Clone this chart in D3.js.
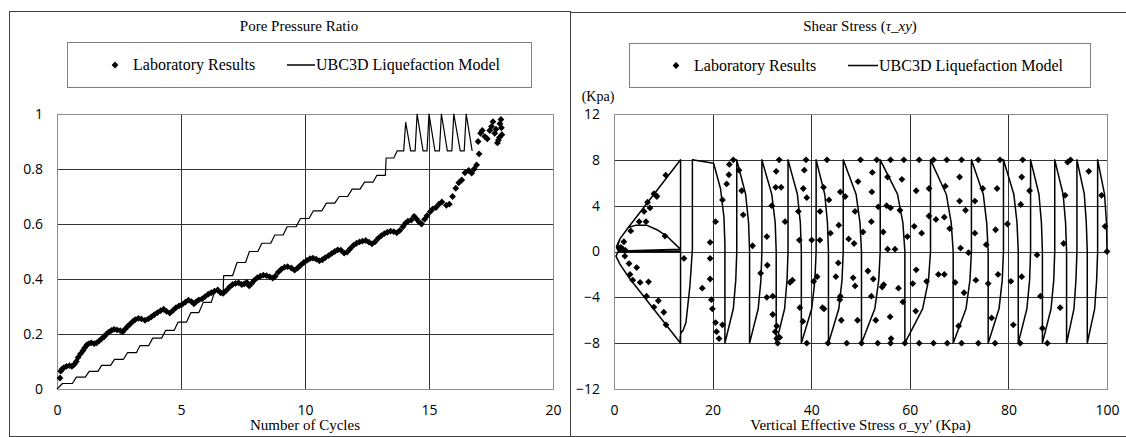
<!DOCTYPE html>
<html>
<head>
<meta charset="utf-8">
<title>Pore Pressure Ratio and Shear Stress</title>
<script src="https://d3js.org/d3.v7.min.js"></script>
<style>
  body { margin: 0; background: #fff; }
  .serif { font-family: "Liberation Serif", "Times New Roman", serif; fill: #000; }
  .tick text { font-family: "Open Sans", sans-serif; font-size: 14px; fill: #000; }
</style>
</head>
<body>
<svg id="chart"></svg>
<script>
// ---- data ----
const poreXTicks = [0, 5, 10, 15, 20];
const poreYTicks = [0, 0.2, 0.4, 0.6, 0.8, 1];
const shearXTicks = [0, 20, 40, 60, 80, 100];
const shearYTicks = [-12, -8, -4, 0, 4, 8, 12];

// laboratory pore pressure ratio [cycles, ratio]
const poreLab = [
  [0.12,0.04],[0.15,0.065],[0.2,0.072],[0.28,0.078],[0.38,0.082],[0.5,0.085],[0.6,0.082],[0.7,0.09],
  [0.78,0.1],[0.85,0.115],[0.95,0.128],[1.05,0.14],[1.12,0.15],[1.2,0.16],[1.28,0.165],[1.38,0.168],
  [1.5,0.165],[1.6,0.168],[1.7,0.175],[1.8,0.183],[1.9,0.19],[2.0,0.2],[2.1,0.208],[2.2,0.213],
  [2.3,0.217],[2.42,0.215],[2.55,0.212],[2.65,0.208],[2.75,0.218],[2.85,0.228],[2.95,0.236],[3.05,0.245],
  [3.15,0.252],[3.28,0.257],[3.4,0.255],[3.55,0.25],[3.68,0.255],[3.8,0.262],[3.92,0.27],[4.05,0.278],
  [4.18,0.285],[4.3,0.29],[4.42,0.282],[4.55,0.276],[4.68,0.286],[4.8,0.296],[4.92,0.302],[5.05,0.308],
  [5.18,0.316],[5.3,0.323],[5.42,0.318],[5.52,0.31],[5.62,0.318],[5.72,0.324],[5.85,0.328],[5.97,0.336],
  [6.1,0.345],[6.22,0.35],[6.35,0.356],[6.48,0.36],[6.6,0.35],[6.7,0.348],[6.82,0.358],[6.95,0.37],
  [7.08,0.38],[7.2,0.384],[7.32,0.386],[7.45,0.38],[7.55,0.382],[7.65,0.388],[7.75,0.375],[7.85,0.384],
  [7.95,0.395],[8.08,0.405],[8.2,0.41],[8.32,0.414],[8.45,0.412],[8.58,0.408],[8.7,0.403],[8.8,0.41],
  [8.92,0.425],[9.05,0.436],[9.18,0.443],[9.3,0.445],[9.45,0.44],[9.58,0.432],[9.7,0.44],[9.82,0.45],
  [9.95,0.46],[10.08,0.468],[10.2,0.474],[10.32,0.476],[10.45,0.472],[10.58,0.466],[10.7,0.47],[10.82,0.478],
  [10.95,0.485],[11.08,0.493],[11.2,0.5],[11.32,0.506],[11.45,0.505],[11.58,0.494],[11.7,0.498],[11.82,0.51],
  [11.95,0.522],[12.08,0.53],[12.2,0.535],[12.32,0.538],[12.45,0.54],[12.58,0.534],[12.7,0.528],[12.82,0.535],
  [12.95,0.548],[13.08,0.558],[13.2,0.565],[13.32,0.57],[13.45,0.574],[13.58,0.572],[13.7,0.568],[13.82,0.576],
  [13.95,0.59],[14.05,0.603],[14.15,0.61],[14.28,0.614],[14.4,0.628],[14.5,0.618],[14.6,0.607],[14.7,0.6],
  [14.82,0.617],[14.92,0.63],[15.05,0.645],[15.15,0.655],[15.28,0.66],[15.4,0.672],[15.52,0.68],[15.7,0.668],
  [15.82,0.672],[15.95,0.7],[16.08,0.73],[16.2,0.75],[16.32,0.76],[16.45,0.786],[16.6,0.795],[16.72,0.785],
  [16.82,0.8],[16.92,0.815],[17.02,0.855],[16.98,0.9],[17.08,0.93],[17.15,0.94],[17.25,0.918],[17.35,0.91],
  [17.45,0.94],[17.52,0.955],[17.58,0.972],[17.65,0.93],[17.7,0.945],[17.76,0.895],[17.8,0.905],[17.86,0.965],
  [17.9,0.98],[17.92,0.95],[17.94,0.925],[17.84,0.915]
];

// UBC3D pore pressure ratio [cycles, ratio]
const poreModel = [
  [0,0],[0.22,0.02],[0.62,0.02],[0.78,0.043],[1.14,0.043],[1.3,0.064],[1.65,0.064],[1.8,0.086],
  [2.16,0.086],[2.32,0.108],[2.68,0.108],[2.84,0.132],[3.2,0.132],[3.35,0.158],[3.7,0.158],[3.86,0.185],
  [4.22,0.185],[4.38,0.213],[4.72,0.213],[4.88,0.243],[5.22,0.243],[5.4,0.278],[5.72,0.278],[5.9,0.315],
  [6.22,0.315],[6.36,0.355],[6.7,0.355],[6.72,0.412],[7.08,0.412],[7.26,0.46],[7.6,0.46],[7.76,0.5],
  [8.1,0.5],[8.26,0.53],[8.62,0.53],[8.78,0.56],[9.12,0.56],[9.28,0.59],[9.64,0.59],[9.82,0.62],
  [10.16,0.62],[10.34,0.648],[10.68,0.648],[10.86,0.676],[11.2,0.676],[11.38,0.7],[11.72,0.7],[11.9,0.727],
  [12.22,0.727],[12.4,0.752],[12.74,0.752],[12.9,0.777],[13.24,0.777],[13.27,0.84],[13.58,0.84],[13.72,0.866],
  [13.98,0.866],[14.06,0.97],[14.26,0.866],[14.44,0.866],[14.52,1.0],[14.76,0.866],[14.92,0.866],[15.0,1.0],
  [15.24,0.866],[15.42,0.866],[15.5,1.0],[15.74,0.866],[15.92,0.866],[16.0,1.0],[16.26,0.866],[16.42,0.866],
  [16.5,1.0],[16.74,0.866]
];

// laboratory shear stress [sigma_yy', tau_xy]
const shearLab = [
  [10.5,6.66],[8.5,4.9],[8.1,5.05],[8.7,4.8],[6.8,4.3],[7.3,3.8],[6.1,3.5],[6.5,2.6],[5.1,2.6],[3.4,1.8],
  [10.35,1.35],[2.0,0.85],[1.4,0.35],[1.8,0.2],[1.1,0.3],[2.3,0.1],[2.2,-0.4],[3.05,-1.05],[4.6,-1.4],[3.25,-2.0],
  [3.8,-2.5],[5.3,-2.7],[7.0,-2.65],[6.6,-3.9],[9.0,-4.3],[8.1,-4.85],[10.1,-5.3],[10.55,-6.4],
  [14.2,-0.6],[17.9,-3.2],[19.5,0.8],[19.5,-0.6],[19.5,-2.4],[19.75,-4.2],[19.95,-5.0],[20.6,2.6],[20.6,-6.2],
  [20.8,-7.0],[21.3,-7.6],[22.0,-6.4],[22.0,4.5],[22.85,5.9],[23.3,6.7],[23.4,7.6],[24.2,8.0],[25.35,7.1],
  [25.9,5.3],[26.2,3.2],[28.1,0.5],[29.75,-1.9],[31.0,1.3],[31.1,-1.2],[31.0,-4.0],[32.0,4.0],[32.2,-3.9],
  [32.2,-5.5],[32.9,7.0],[32.8,5.6],[33.9,5.6],[33.5,8.0],[32.7,-7.0],[33.0,-7.6],[33.2,-8.0],[33.6,-7.5],
  [33.0,-6.5],[34.7,2.6],[35.7,-2.7],[36.2,-2.5],[37.4,3.5],[37.6,1.0],[37.7,-4.9],[38.4,5.5],[38.6,7.1],
  [38.95,8.0],[39.1,4.7],[38.3,-6.1],[39.1,-8.0],[40.1,1.0],[41.75,1.0],[41.8,3.5],[42.5,5.6],[43.2,8.0],
  [43.6,4.5],[43.9,1.6],[41.2,-2.2],[40.5,-2.6],[42.3,-4.9],[42.6,-5.0],[43.4,-8.0],[45.6,2.3],[45.5,-1.0],
  [45.0,-2.2],[45.9,-3.9],[45.8,-4.2],[46.1,-6.0],[47.2,-8.0],[45.9,5.2],[46.9,4.8],[47.6,1.1],[48.9,3.5],
  [48.7,0.7],[48.5,-2.3],[48.9,-3.0],[49.4,-6.0],[50.0,8.0],[49.5,6.1],[50.5,1.7],[50.2,-8.0],[51.5,-1.7],
  [52.2,2.6],[52.3,5.2],[52.4,6.9],[52.2,-3.9],[52.6,-2.4],[53.1,-6.0],[53.5,-8.0],[53.3,8.0],[53.6,3.9],
  [54.6,1.7],[54.7,-2.9],[54.4,-3.1],[55.3,4.0],[55.5,6.5],[56.1,8.0],[56.1,3.8],[56.0,-5.7],[56.2,-7.6],
  [56.1,-8.0],[55.5,0.2],[57.0,0.2],[57.7,-3.2],[58.0,3.6],[58.4,6.3],[58.8,8.0],[58.6,-4.4],[59.0,-8.0],
  [59.5,1.3],[61.3,5.3],[61.3,-1.6],[60.9,2.2],[60.6,-2.8],[61.2,-5.2],[61.9,8.0],[61.9,-8.0],[62.4,1.6],
  [63.4,-2.6],[63.9,5.5],[63.9,3.1],[64.8,8.0],[64.8,-8.0],[65.3,2.8],[65.8,-2.0],[67.0,-2.0],[67.2,5.7],
  [67.0,3.0],[67.5,8.0],[67.6,-8.0],[68.1,2.0],[69.2,-2.7],[69.9,-6.5],[70.1,4.4],[70.1,6.5],[70.3,0.3],
  [70.5,8.0],[70.5,-8.0],[71.3,3.6],[71.9,-0.1],[71.0,-3.6],[73.2,4.4],[73.4,-2.5],[73.2,1.6],[73.9,8.0],
  [73.9,-8.0],[74.8,5.5],[75.5,0.6],[75.9,-2.8],[76.6,-5.8],[77.4,1.9],[77.7,5.5],[77.9,-2.0],[77.3,-8.0],
  [78.3,8.0],[79.8,2.4],[80.5,-2.6],[81.0,-6.4],[82.4,-8.0],[82.5,4.1],[82.7,6.5],[82.7,-2.2],[82.9,8.0],
  [84.3,5.3],[85.8,-0.3],[86.5,-3.9],[86.9,-6.7],[87.9,-8.0],[90.5,-4.9],[91.2,0.7],[91.5,4.9],[92.0,7.8],
  [92.6,8.0],[96.3,7.0],[98.9,4.9],[99.6,2.2],[100,0]
];

// UBC3D stress path [sigma_yy', tau_xy]
const shearModel = [
  [100,0],[99.9,2.5],[99.5,5],[98.1,8],[98.1,0],[97.9,-2.5],[97.5,-5],[96.0,-8],
  [96.0,0],[95.8,2.5],[95.4,5],[93.9,8],[93.9,0],[93.7,-2.5],[93.3,-5],[91.8,-8],
  [91.8,0],[91.6,2.5],[91.1,5],[89.4,8],[89.4,0],[89.2,-2.5],[88.65,-5],[86.9,-8],
  [86.9,0],[86.7,2.5],[86.2,5],[84.5,8],[84.5,0],[84.3,-2.5],[83.75,-5],[82.0,-8],
  [82.0,0],[81.75,2.5],[81.1,5],[79.0,8],[79.0,0],[78.75,-2.5],[78.1,-5],[75.9,-8],
  [75.9,0],[75.6,2.5],[74.9,5],[72.5,8],[72.5,0],[72.2,-2.5],[71.4,-5],[68.8,-8],
  [68.8,0],[68.4,2.5],[67.4,5],[64.2,8],[64.2,0],[63.8,-2.5],[62.6,-5],[59.0,-8],
  [59.0,0],[58.6,2.5],[57.5,5],[54.0,8],[54.0,0],[53.7,-2.5],[52.9,-5],[50.2,-8],
  [50.2,0],[49.9,2.5],[49.1,5],[46.5,8],[46.5,0],[46.25,-2.5],[45.6,-5],[43.5,-8],
  [43.5,0],[43.3,2.5],[42.75,5],[41.0,8],[41.0,0],[40.75,-2.5],[40.1,-5],[38.0,-8],
  [38.0,0],[37.8,2.5],[37.2,5],[35.3,8],[35.3,0],[35.1,-2.5],[34.6,-5],[32.9,-8],
  [32.9,0],[32.7,2.5],[32.0,5],[30.0,8],[30.0,0],[29.8,-2.5],[29.25,-5],[27.5,-8],
  [27.5,0],[27.3,2.5],[26.7,5],[24.9,8],[24.9,0],[24.7,-2.5],[24.2,-5],[22.5,-8],
  [22.5,0.6],[22.3,3],[21.6,5.5],[20.2,7.7],[15.9,8.0],[15.9,0.2],[15.4,-3],[14.6,-6.2],
  [14.0,-6.9],[13.6,-7.1],[13.4,-7.5],[13.5,-8],[13.5,0.15],[0.9,0.0],[0.5,0.4],[1.2,1.1],
  [2.9,2.1],[4.5,2.3],[6.6,2.3],[8.7,1.9],[10.7,1.35],[12.5,0.6],[13.5,0.2],[1.2,0.05],
  [0.6,0.3],[1.2,1.1],[2.9,2.1],[13.5,8],[13.5,0],[0.8,-0.05],[0.4,-0.4],[1.2,-1.1],
  [2.9,-2.2],[13.5,-8]
];

// ---- layout ----
const svgWidth = 1126, svgHeight = 437;
const svg = d3.select("#chart").attr("width", svgWidth).attr("height", svgHeight);
const diamond = "M0,-3.4L3.4,0L0,3.4L-3.4,0Z";

function drawPanel(cfg) {
  const g = svg.append("g");

  g.append("rect")
    .attr("x", cfg.panel[0] + 0.5).attr("y", cfg.panel[1] + 0.5)
    .attr("width", cfg.panel[2]).attr("height", cfg.panel[3])
    .attr("fill", "none").attr("stroke", "#404040").attr("stroke-width", 1);

  const x = d3.scaleLinear().domain(cfg.xDomain).range([cfg.plot[0], cfg.plot[1]]);
  const y = d3.scaleLinear().domain(cfg.yDomain).range([cfg.plot[3], cfg.plot[2]]);

  // title
  const title = g.append("text").attr("class", "serif")
    .attr("x", cfg.center).attr("y", 31)
    .attr("text-anchor", "middle").style("font-size", "15px");
  cfg.title(title);

  // legend
  const lg = g.append("g");
  lg.append("rect")
    .attr("x", cfg.legend[0] + 0.5).attr("y", cfg.legend[1] + 0.5)
    .attr("width", cfg.legend[2]).attr("height", cfg.legend[3])
    .attr("fill", "#fff").attr("stroke", "#7f7f7f");
  const ly = cfg.legend[1] + cfg.legend[3] / 2 + 0.5;
  lg.append("path").attr("d", diamond)
    .attr("transform", `translate(${cfg.legendItems[0]},${ly})`).attr("fill", "#000");
  lg.append("text").attr("class", "serif").attr("x", cfg.legendItems[1]).attr("y", ly + 5)
    .style("font-size", "16px").text("Laboratory Results");
  lg.append("line")
    .attr("x1", cfg.legendItems[2]).attr("x2", cfg.legendItems[3])
    .attr("y1", ly).attr("y2", ly).attr("stroke", "#000").attr("stroke-width", 1.5);
  lg.append("text").attr("class", "serif").attr("x", cfg.legendItems[3] + 1).attr("y", ly + 5)
    .style("font-size", "16px").text("UBC3D Liquefaction Model");

  // gridlines
  const grid = g.append("g").attr("stroke", "#333").attr("stroke-width", 1);
  cfg.xTicks.slice(1, -1).forEach(t => {
    grid.append("line").attr("x1", Math.round(x(t)) + 0.5).attr("x2", Math.round(x(t)) + 0.5)
      .attr("y1", cfg.plot[2]).attr("y2", cfg.plot[3]);
  });
  cfg.yTicks.slice(1, -1).forEach(t => {
    grid.append("line").attr("y1", Math.round(y(t)) + 0.5).attr("y2", Math.round(y(t)) + 0.5)
      .attr("x1", cfg.plot[0]).attr("x2", cfg.plot[1]);
  });
  g.append("rect")
    .attr("x", cfg.plot[0] + 0.5).attr("y", cfg.plot[2] + 0.5)
    .attr("width", cfg.plot[1] - cfg.plot[0]).attr("height", cfg.plot[3] - cfg.plot[2])
    .attr("fill", "none").attr("stroke", "#8c8c8c");

  // axes
  const ax = g.append("g").attr("transform", `translate(0,${cfg.plot[3]})`)
    .call(d3.axisBottom(x).tickValues(cfg.xTicks).tickSize(0).tickPadding(16).tickFormat(d3.format("d")));
  ax.select(".domain").remove();
  const ay = g.append("g").attr("transform", `translate(${cfg.plot[0]},0)`)
    .call(d3.axisLeft(y).tickValues(cfg.yTicks).tickSize(0).tickPadding(14).tickFormat(cfg.yFormat));
  ay.select(".domain").remove();

  g.append("text").attr("class", "serif")
    .attr("x", (cfg.plot[0] + cfg.plot[1]) / 2).attr("y", 430)
    .attr("text-anchor", "middle").style("font-size", "15px").text(cfg.xLabel);

  // model line
  const line = d3.line().x(d => x(d[0])).y(d => y(d[1]));
  g.append("path").datum(cfg.model)
    .attr("fill", "none").attr("stroke", "#000").attr("stroke-width", cfg.lineWidth)
    .attr("stroke-linejoin", "round").attr("d", line);

  // lab points
  g.append("g").selectAll("path").data(cfg.lab).join("path")
    .attr("d", diamond)
    .attr("transform", d => `translate(${x(d[0])},${y(d[1])})`)
    .attr("fill", "#000");

  return g;
}

drawPanel({
  panel: [9, 11, 561, 425],
  plot: [57, 553, 114, 389],
  center: 299,
  legend: [67, 42, 464, 45],
  legendItems: [115, 133, 287, 315],
  xDomain: [0, 20], yDomain: [0, 1],
  xTicks: poreXTicks, yTicks: poreYTicks,
  yFormat: d3.format("~g"),
  title: t => t.text("Pore Pressure Ratio"),
  xLabel: "Number of Cycles",
  model: poreModel, lab: poreLab, lineWidth: 1.2
});

const right = drawPanel({
  panel: [570, 12, 570, 424],
  plot: [614, 1107, 114, 389],
  center: 860,
  legend: [629, 43, 461, 44],
  legendItems: [676, 694, 848, 878],
  xDomain: [0, 100], yDomain: [-12, 12],
  xTicks: shearXTicks, yTicks: shearYTicks,
  yFormat: d3.format("d"),
  title: t => {
    t.append("tspan").text("Shear Stress (");
    t.append("tspan").style("font-style", "italic").text("τ_xy");
    t.append("tspan").text(")");
  },
  xLabel: "Vertical Effective Stress σ_yy' (Kpa)",
  model: shearModel, lab: shearLab, lineWidth: 1.5
});

right.append("text").attr("class", "serif")
  .attr("x", 598).attr("y", 101).attr("text-anchor", "middle")
  .style("font-size", "14px").text("(Kpa)");
</script>
</body>
</html>
